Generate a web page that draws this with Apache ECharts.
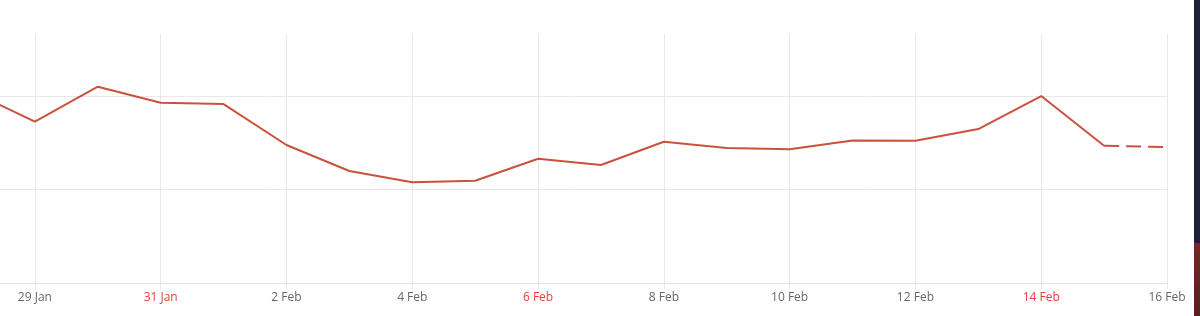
<!DOCTYPE html>
<html>
<head>
<meta charset="utf-8">
<script src="https://cdn.jsdelivr.net/npm/echarts@6/dist/echarts.min.js"></script>
<style>
html,body{margin:0;padding:0;background:#fff;overflow:hidden;width:1200px;height:316px;}
#chart{position:absolute;left:-28px;top:0;width:1228px;height:316px;}
</style>
</head>
<body>
<div id="chart"></div>
<script>
const categories = ['28 Jan','29 Jan','30 Jan','31 Jan','1 Feb','2 Feb','3 Feb','4 Feb','5 Feb','6 Feb','7 Feb','8 Feb','9 Feb','10 Feb','11 Feb','12 Feb','13 Feb','14 Feb','15 Feb','16 Feb'];
const values = [2.052,1.730,2.105,1.933,1.919,1.480,1.201,1.080,1.097,1.333,1.265,1.515,1.448,1.434,1.528,1.526,1.651,2.005,1.472,1.457];
const forecastFrom = 18; // index where the dashed segment starts
const redLabels = ['31 Jan','6 Feb','14 Feb'];

const solid = values.map((v,i)=> i<=forecastFrom ? v : null);
const dashed = values.map((v,i)=> i>=forecastFrom ? v : null);

const chart = echarts.init(document.getElementById('chart'), null, {renderer:'canvas'});
const showOdd = (idx)=> idx % 2 === 1;
chart.setOption({
  animation:false,
  backgroundColor:'#ffffff',
  grid:{left:0, right:33, top:34, bottom:33, containLabel:false},
  xAxis:{
    type:'category',
    data:categories,
    boundaryGap:false,
    axisLine:{show:true, lineStyle:{color:'#e4e4e4', width:1}},
    axisTick:{show:true, length:6, interval:showOdd, lineStyle:{color:'#e4e4e4'}},
    axisLabel:{
      interval:showOdd,
      margin:9,
      fontFamily:'Open Sans',
      fontSize:12,
      color:(value)=> redLabels.includes(value) ? '#e5413b' : '#666666'
    },
    splitLine:{show:true, interval:showOdd, lineStyle:{color:'#e8e8e8', width:1}}
  },
  yAxis:{
    type:'value',
    min:0, max:2.67, interval:1,
    axisLine:{show:false}, axisTick:{show:false}, axisLabel:{show:false},
    splitLine:{show:true, lineStyle:{color:['#e8e8e8','#e8e8e8','#e8e8e8','rgba(0,0,0,0)'], width:1}}
  },
  series:[
    {type:'line', data:solid, symbol:'none', connectNulls:false,
     lineStyle:{color:'#c9523f', width:2}, itemStyle:{color:'#c9523f'}},
    {type:'line', data:dashed, symbol:'none', connectNulls:false,
     lineStyle:{color:'#c9523f', width:2, type:[15,7]}, itemStyle:{color:'#c9523f'}}
  ],
  graphic:[
    {type:'rect', left:1222, top:0, shape:{width:6, height:316}, style:{fill:'#1e1f3d'}, silent:true},
    {type:'rect', left:1222, top:243, shape:{width:6, height:73},
     style:{fill:new echarts.graphic.LinearGradient(0,0,0,1,[{offset:0,color:'#7a2428'},{offset:1,color:'#5e1c1e'}])}, silent:true}
  ]
});
</script>
</body>
</html>
